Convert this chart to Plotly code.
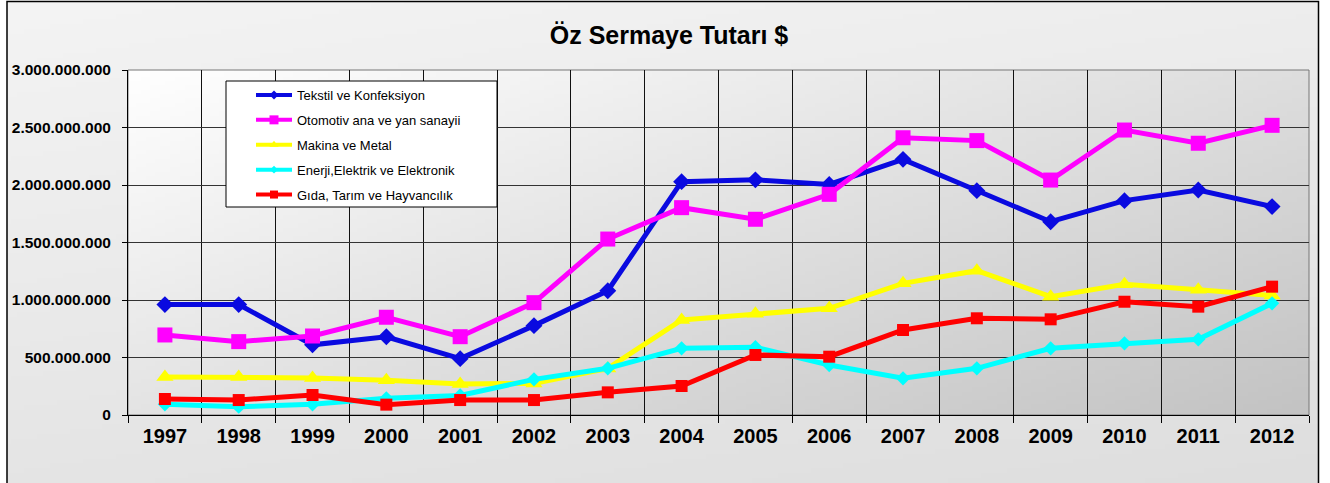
import base64, struct, zlib
import numpy as np
import plotly.graph_objects as go

years = [str(y) for y in range(1997, 2013)]

tekstil = [960e6, 960e6, 610e6, 680e6, 490e6, 777e6, 1081e6, 2029e6, 2045e6, 2005e6,
           2223e6, 1951e6, 1681e6, 1864e6, 1957e6, 1812e6]
otomotiv = [696e6, 638e6, 687e6, 850e6, 681e6, 977e6, 1530e6, 1803e6, 1702e6, 1919e6,
            2411e6, 2386e6, 2043e6, 2478e6, 2363e6, 2519e6]
makina = [330e6, 330e6, 322e6, 302e6, 270e6, 275e6, 405e6, 826e6, 880e6, 928e6,
          1145e6, 1255e6, 1029e6, 1137e6, 1090e6, 1040e6]
enerji = [93e6, 72e6, 93e6, 145e6, 170e6, 310e6, 406e6, 580e6, 589e6, 435e6,
          319e6, 406e6, 580e6, 623e6, 658e6, 971e6]
gida = [139e6, 130e6, 174e6, 90e6, 130e6, 130e6, 197e6, 252e6, 522e6, 507e6,
        739e6, 841e6, 832e6, 985e6, 942e6, 1116e6]

series_names = ["Tekstil ve Konfeksiyon", "Otomotiv ana ve yan sanayii", "Makina ve Metal",
                "Enerji,Elektrik ve Elektronik", "Gıda, Tarım ve Hayvancılık"]
series_values = [tekstil, otomotiv, makina, enerji, gida]
series_colors = ["#0a0ae0", "#ff00ff", "#ffff00", "#00ffff", "#ff0000"]
series_symbols = ["diamond", "square", "triangle-up", "diamond", "square"]
series_msize = [13, 15, 15, 11, 12]
legend_msize = [7, 9, 8, 6, 8]

title_text = "Öz Sermaye Tutarı $"


def png_uri(arr):
    h, w, _ = arr.shape
    raw = b"".join(b"\x00" + arr[y].tobytes() for y in range(h))

    def chunk(t, d):
        c = struct.pack(">I", len(d)) + t + d
        return c + struct.pack(">I", zlib.crc32(t + d) & 0xffffffff)

    png = b"\x89PNG\r\n\x1a\n" + chunk(b"IHDR", struct.pack(">IIBBBBB", w, h, 8, 2, 0, 0, 0))
    png += chunk(b"IDAT", zlib.compress(raw, 9)) + chunk(b"IEND", b"")
    return "data:image/png;base64," + base64.b64encode(png).decode()


# plot-area diagonal gradient (white top-left -> grey bottom-right)
W, H = 240, 80
xx, yy = np.meshgrid(np.linspace(0, 1, W), np.linspace(0, 1, H))
t = np.clip(0.55 * xx + 0.45 * yy, 0, 1)
g = (255 - 60 * t).astype(np.uint8)
plot_bg = np.stack([g, g, g], axis=-1)

# outer chart gradient
W2, H2 = 200, 100
xx2, yy2 = np.meshgrid(np.linspace(0, 1, W2), np.linspace(0, 1, H2))
t2 = np.clip(0.3 * xx2 + 0.7 * yy2, 0, 1)
g2 = (244 - 22 * t2).astype(np.uint8)
outer_bg = np.stack([g2, g2, g2], axis=-1)

FW, FH = 1330, 483
L, R, T, B = 128, 21, 70, 68
PW, PH = FW - L - R, FH - T - B


def px_to_paper_x(px):
    return (px - L) / PW


def px_to_paper_y(py):
    return (FH - B - py) / PH


fig = go.Figure()
for name, vals, col, sym, ms in zip(series_names, series_values, series_colors, series_symbols, series_msize):
    fig.add_trace(go.Scatter(
        x=years, y=vals, name=name, mode="lines+markers", showlegend=False,
        line=dict(color=col, width=5),
        marker=dict(symbol=sym, size=ms, color=col),
    ))
# legend entries (no data; only the legend swatches)
for name, col, sym, ms in zip(series_names, series_colors, series_symbols, legend_msize):
    fig.add_trace(go.Scatter(
        x=[None], y=[None], name=name, mode="lines+markers", legendgroup=name,
        line=dict(color=col, width=4), marker=dict(symbol=sym, size=ms, color=col),
    ))

ox0, ox1 = px_to_paper_x(7), px_to_paper_x(1318.5)
oy1, oy0 = px_to_paper_y(1.5), px_to_paper_y(490)

fig.update_layout(
    width=FW, height=FH,
    margin=dict(l=L, r=R, t=T, b=B, pad=0),
    paper_bgcolor="white",
    plot_bgcolor="rgba(0,0,0,0)",
    separators=",.",
    font=dict(family="Liberation Sans, Arial, sans-serif", color="black"),
    title=dict(text="<b>" + title_text + "</b>", x=(669 - L) / PW, xref="paper", xanchor="center",
               y=1 - 35 / FH, yanchor="middle", font=dict(size=25, color="black")),
    showlegend=True,
    legend=dict(x=px_to_paper_x(251), y=px_to_paper_y(80), xanchor="left", yanchor="top",
                bgcolor="rgba(0,0,0,0)", borderwidth=0,
                font=dict(size=13, color="black", family="Liberation Sans, Arial, sans-serif"),
                tracegroupgap=5, itemwidth=36, traceorder="grouped"),
    images=[
        dict(source=png_uri(outer_bg), xref="paper", yref="paper", x=ox0, y=oy1,
             sizex=ox1 - ox0, sizey=oy1 - oy0, xanchor="left", yanchor="top",
             sizing="stretch", layer="below"),
        dict(source=png_uri(plot_bg), xref="paper", yref="paper", x=0, y=1,
             sizex=1, sizey=1, xanchor="left", yanchor="top",
             sizing="stretch", layer="below"),
    ],
    shapes=[
        dict(type="rect", xref="paper", yref="paper", x0=ox0, x1=ox1, y0=oy0, y1=oy1,
             line=dict(color="black", width=1.5), fillcolor="rgba(0,0,0,0)", layer="below"),
        dict(type="rect", xref="paper", yref="paper", x0=0, x1=1, y0=0, y1=1,
             line=dict(color="#777777", width=1), fillcolor="rgba(0,0,0,0)", layer="below"),
        dict(type="rect", xref="paper", yref="paper",
             x0=px_to_paper_x(226), x1=px_to_paper_x(497),
             y0=px_to_paper_y(207), y1=px_to_paper_y(81),
             line=dict(color="black", width=1), fillcolor="white", layer="above"),
    ],
)

fig.update_xaxes(
    type="category", tickson="boundaries", showgrid=True, gridcolor="#111111", gridwidth=1,
    ticks="outside", ticklen=7, tickcolor="black", showline=True, linecolor="black",
    tickfont=dict(size=20, color="black", family="Liberation Sans, Arial, sans-serif"),
    tickprefix="<b>", ticksuffix="</b>", range=[-0.5, 15.5], zeroline=False,
    ticklabelstandoff=3,
)
fig.update_yaxes(
    range=[0, 3e9], dtick=5e8, tickformat=",.0f", showgrid=True, gridcolor="#333333", gridwidth=1,
    ticks="outside", ticklen=5, tickcolor="black", showline=True, linecolor="black",
    tickfont=dict(size=15.5, color="black", family="Liberation Sans, Arial, sans-serif"),
    tickprefix="<b>", ticksuffix="</b>", zeroline=False, ticklabelstandoff=8,
)

fig.write_html("out.html", config={"displayModeBar": False},
               post_script="document.body.style.margin='0';")
